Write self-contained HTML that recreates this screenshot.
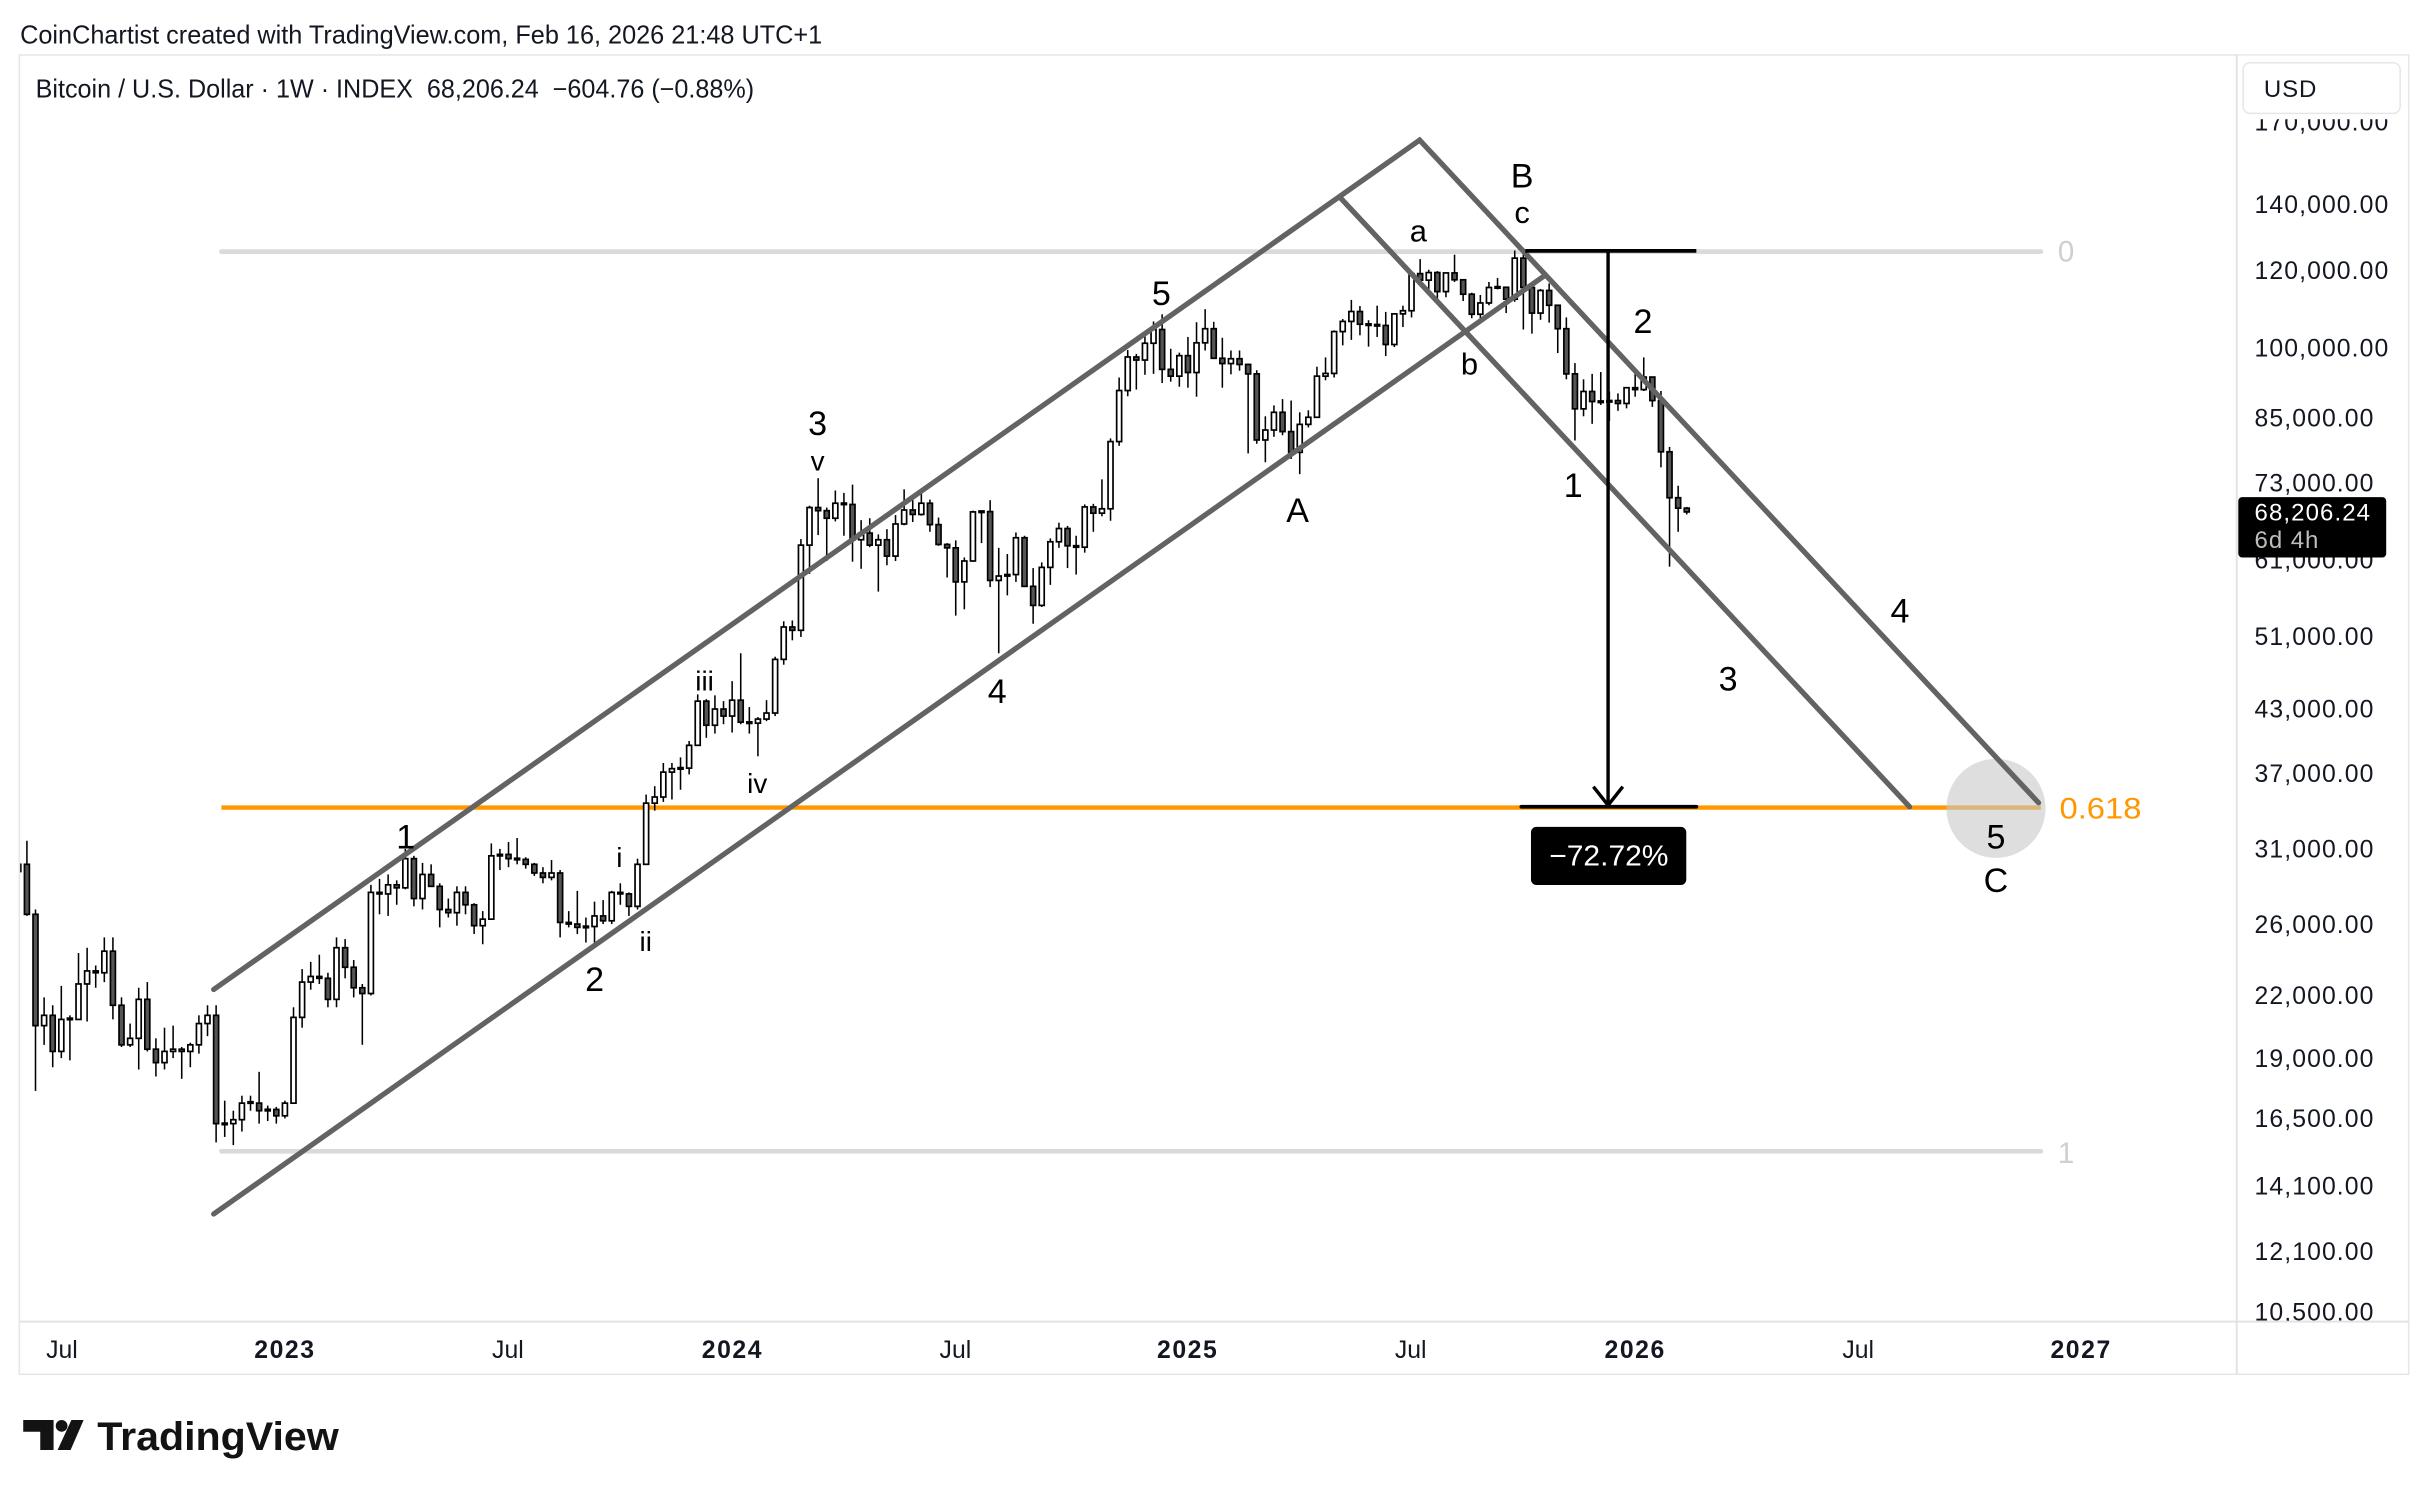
<!DOCTYPE html>
<html>
<head>
<meta charset="utf-8">
<style>
html,body{margin:0;padding:0;background:#fff;overflow:hidden;}
svg{display:block;}
text{font-family:"Liberation Sans",Arial,sans-serif;}
</style>
</head>
<body>
<svg id="s" width="2428" height="1496" viewBox="0 0 1568 966.1" preserveAspectRatio="none" xmlns="http://www.w3.org/2000/svg">
<defs>
  <clipPath id="cp"><rect x="13" y="36" width="1431" height="817"/></clipPath>
  <clipPath id="ap"><rect x="1445" y="36" width="110" height="817"/></clipPath>
</defs>
<rect width="1568" height="966.1" fill="#fff"/>

<!-- header -->
<text x="13" y="28" font-size="16.5" fill="#131722" textLength="518" lengthAdjust="spacingAndGlyphs">CoinChartist created with TradingView.com, Feb 16, 2026 21:48 UTC+1</text>

<!-- panel -->
<rect x="12.5" y="35.5" width="1543" height="852" fill="#fff" stroke="#e6e6e6" stroke-width="1"/>
<line x1="1444.5" y1="35.5" x2="1444.5" y2="887.5" stroke="#e3e3e3" stroke-width="1.3"/>
<line x1="12.5" y1="853.5" x2="1555.5" y2="853.5" stroke="#e3e3e3" stroke-width="1.3"/>

<!-- legend -->
<text x="23" y="63" font-size="16.5" fill="#131722" textLength="464" lengthAdjust="spacingAndGlyphs">Bitcoin / U.S. Dollar · 1W · INDEX&#160; 68,206.24&#160; −604.76 (−0.88%)</text>

<!-- fib lines -->
<line x1="143" y1="162.5" x2="1318" y2="162.5" stroke="#dadada" stroke-width="3" stroke-linecap="round"/>
<line x1="143" y1="743.5" x2="1318" y2="743.5" stroke="#dadada" stroke-width="3" stroke-linecap="round"/>
<line x1="143" y1="521.5" x2="1318" y2="521.5" stroke="#ff9800" stroke-width="2.8"/>
<text x="1329" y="169" font-size="19" fill="#cfcfcf">0</text>
<text x="1329" y="751" font-size="19" fill="#cfcfcf">1</text>
<text x="1330" y="528.5" font-size="19" fill="#ff9800" textLength="53" lengthAdjust="spacingAndGlyphs">0.618</text>

<!-- candles -->
<g id="c" clip-path="url(#cp)"></g>

<!-- circle -->
<circle cx="1289" cy="522" r="32" fill="rgba(200,200,200,0.6)"/>

<!-- channel lines -->
<g fill="none" stroke="#636363" stroke-width="3.4" stroke-linecap="round">
  <polyline points="138,639 916.8,90.5 1316.5,518.4" stroke-linejoin="miter"/>
  <line x1="865.4" y1="127.5" x2="1233.2" y2="521"/>
  <line x1="138" y1="784" x2="997.5" y2="178"/>
</g>

<!-- measurement arrow -->
<g stroke="#000" fill="none">
  <line x1="985" y1="162" x2="1095.5" y2="162" stroke-width="2.4"/>
  <line x1="982.5" y1="521" x2="1095.5" y2="521" stroke-width="2.4" stroke-linecap="round"/>
  <line x1="1038.5" y1="162" x2="1038.5" y2="519" stroke-width="2.2"/>
  <polyline points="1029,508 1038.5,520 1048,508" stroke-width="2.2"/>
</g>
<rect x="988.7" y="534" width="100.3" height="37.5" rx="3.5" fill="#000"/>
<text x="1039" y="559" font-size="18.5" fill="#fff" text-anchor="middle" textLength="77" lengthAdjust="spacingAndGlyphs">−72.72%</text>

<!-- wave labels -->
<g fill="#000" text-anchor="middle" font-size="22">
  <text x="262" y="548">1</text>
  <text x="384" y="640">2</text>
  <text x="400" y="560" font-size="18">i</text>
  <text x="417" y="614" font-size="18">ii</text>
  <text x="455" y="446" font-size="18">iii</text>
  <text x="489" y="512" font-size="18">iv</text>
  <text x="528" y="281">3</text>
  <text x="528" y="304" font-size="18">v</text>
  <text x="644" y="454">4</text>
  <text x="750" y="197">5</text>
  <text x="838" y="337">A</text>
  <text x="916" y="156" font-size="20">a</text>
  <text x="949" y="242" font-size="20">b</text>
  <text x="983" y="121">B</text>
  <text x="983" y="144" font-size="20">c</text>
  <text x="1016" y="321">1</text>
  <text x="1061" y="215">2</text>
  <text x="1116" y="446">3</text>
  <text x="1227" y="402">4</text>
  <text x="1289" y="548">5</text>
  <text x="1289" y="576">C</text>
</g>

<!-- price axis labels -->
<g clip-path="url(#ap)" font-size="16" fill="#131722" letter-spacing="0.7">
  <text x="1456" y="84.3">170,000.00</text>
  <text x="1456" y="137.6">140,000.00</text>
  <text x="1456" y="180.3">120,000.00</text>
  <text x="1456" y="230.3">100,000.00</text>
  <text x="1456" y="275.5">85,000.00</text>
  <text x="1456" y="317.5">73,000.00</text>
  <text x="1456" y="367.1">61,000.00</text>
  <text x="1456" y="416.5">51,000.00</text>
  <text x="1456" y="463.5">43,000.00</text>
  <text x="1456" y="505.1">37,000.00</text>
  <text x="1456" y="553.9">31,000.00</text>
  <text x="1456" y="602.4">26,000.00</text>
  <text x="1456" y="648.5">22,000.00</text>
  <text x="1456" y="689">19,000.00</text>
  <text x="1456" y="727.9">16,500.00</text>
  <text x="1456" y="771.3">14,100.00</text>
  <text x="1456" y="813.6">12,100.00</text>
  <text x="1456" y="852.7">10,500.00</text>
</g>
<rect x="1445.5" y="36" width="109.5" height="41" fill="#fff"/>
<rect x="1448.6" y="40.5" width="101.4" height="32.7" rx="4.5" fill="#fff" stroke="#e6e6e6" stroke-width="1"/>
<text x="1462" y="62.5" font-size="15.5" fill="#131722" letter-spacing="0.6">USD</text>

<!-- current price box -->
<rect x="1445.5" y="321" width="95.5" height="39" rx="2.5" fill="#000"/>
<text x="1456" y="336" font-size="15.5" fill="#fff" letter-spacing="0.7">68,206.24</text>
<text x="1456" y="354" font-size="15.5" fill="#bdbdbd" letter-spacing="0.6">6d 4h</text>

<!-- time axis labels -->
<g font-size="16" fill="#131722" text-anchor="middle">
  <text x="40" y="877">Jul</text>
  <text x="184" y="877" font-weight="bold" letter-spacing="1">2023</text>
  <text x="328" y="877">Jul</text>
  <text x="473" y="877" font-weight="bold" letter-spacing="1">2024</text>
  <text x="617" y="877">Jul</text>
  <text x="767" y="877" font-weight="bold" letter-spacing="1">2025</text>
  <text x="911" y="877">Jul</text>
  <text x="1056" y="877" font-weight="bold" letter-spacing="1">2026</text>
  <text x="1200" y="877">Jul</text>
  <text x="1344" y="877" font-weight="bold" letter-spacing="1">2027</text>
</g>

<!-- TradingView logo -->
<g fill="#131313">
  <path d="M15,917 H34.6 V936.4 H26 V924.6 H15 Z"/>
  <circle cx="39.8" cy="920.8" r="3.8"/>
  <path d="M46.1,917 L54,917 L45.6,936.4 L37.2,936.4 Z"/>
  <text x="62.8" y="936.4" font-size="25.5" font-weight="bold" textLength="156" lengthAdjust="spacingAndGlyphs">TradingView</text>
</g>
</svg>

<script>
(function(){
var D=[
[29.4,31.9,29.3,29.9],[29.9,31.6,26.5,26.6],[26.6,26.9,17.6,20.5],[20.5,21.9,19.6,21.0],[21.0,21.5,18.6,19.3],
[19.3,22.5,19.0,20.8],[20.8,21.0,18.9,20.85],[20.8,24.3,20.8,22.6],[22.6,24.6,20.7,23.3],[23.3,23.6,22.4,23.2],
[23.2,25.2,22.7,24.4],[24.4,25.2,20.8,21.5],[21.5,21.9,19.5,19.6],[19.6,20.6,19.5,19.9],[19.9,22.4,18.5,21.8],
[21.8,22.7,19.3,19.4],[19.4,19.9,18.2,18.8],[18.8,20.4,18.5,19.3],[19.3,20.5,19.0,19.4],[19.4,19.5,18.1,19.3],
[19.3,19.7,18.6,19.6],[19.6,21.0,19.2,20.6],[20.6,21.5,20.0,21.0],[21.0,21.5,15.6,16.3],[16.3,17.2,15.8,16.28],
[16.3,16.8,15.5,16.45],[16.45,17.4,16.0,17.1],[17.1,17.4,16.8,17.15],[17.1,18.4,16.3,16.8],[16.8,17.0,16.4,16.85],
[16.85,16.95,16.3,16.6],
[16.6,17.2,16.5,17.1],[17.1,21.4,17.1,20.9],[20.9,23.4,20.4,22.7],[22.7,23.8,22.3,23.0],[23.0,24.2,22.6,22.9],
[22.9,23.2,21.4,21.8],[21.8,25.2,21.4,24.6],[24.6,25.1,22.9,23.5],[23.5,23.9,21.9,22.4],[22.4,22.6,19.6,22.1],
[22.1,28.5,22.0,28.0],[28.0,28.9,26.6,27.9],[27.9,29.2,26.5,28.5],[28.5,28.8,27.2,28.3],[28.3,31.0,28.2,30.3],
[30.3,30.5,27.1,27.6],[27.6,30.0,26.9,29.2],[29.2,29.9,28.4,28.4],[28.4,28.6,25.8,26.9],[26.9,27.6,26.4,26.7],
[26.7,28.4,25.9,28.0],[28.0,28.4,26.6,27.2],[27.2,27.3,25.4,25.9],[25.9,26.8,24.8,26.3],[26.3,31.4,26.3,30.5],
[30.5,31.0,29.5,30.6],[30.6,31.5,29.7,30.3],[30.3,31.8,29.9,30.25],[30.25,30.4,29.6,29.9],[29.9,30.0,29.1,29.3],
[29.3,29.7,28.6,29.0],[29.0,30.2,28.8,29.3],[29.3,29.5,25.2,26.1],[26.1,26.8,25.8,26.0],[26.0,28.1,25.4,25.8],
[25.8,26.4,24.9,25.85],[25.85,27.4,24.9,26.5],[26.5,27.5,26.0,26.2],[26.2,28.1,26.0,28.0],[28.0,28.6,27.2,27.9],
[27.9,28.0,26.5,27.1],[27.1,30.3,26.9,29.9],[29.9,35.2,29.9,34.5],[34.5,35.9,33.9,35.0],[35.0,37.9,34.6,37.1],
[37.1,37.9,34.8,37.4],[37.4,38.4,35.6,37.45],[37.45,39.9,36.9,39.5],[39.5,44.5,39.5,43.8],[43.8,44.0,40.2,41.4],
[41.4,44.4,40.6,43.0],[43.0,43.8,41.5,42.3],
[42.3,45.9,40.7,43.9],[43.9,49.0,41.5,41.7],[41.7,43.2,40.6,41.6],[41.6,42.2,38.5,42.0],[42.0,43.9,41.8,42.6],
[42.6,48.6,42.3,48.3],[48.3,52.8,47.7,52.1],[52.1,52.9,50.5,51.7],[51.7,64.0,50.9,63.1],[63.1,69.2,59.0,68.9],
[68.9,73.8,64.6,68.4],[68.4,68.9,60.8,67.2],[67.2,71.7,66.7,69.6],[69.6,71.3,64.5,69.4],[69.4,72.7,60.7,63.9],
[63.9,66.9,59.7,64.9],[64.9,67.2,62.8,63.1],[63.1,64.7,56.6,63.9],[63.9,65.5,60.2,61.5],[61.5,67.7,60.8,66.3],
[66.3,71.9,66.1,68.5],[68.5,70.6,66.6,67.8],[67.8,71.9,67.6,69.6],[69.6,70.2,65.1,66.2],[66.2,67.3,63.0,63.2],
[63.2,63.4,58.5,62.7],[62.7,63.8,53.5,57.9],[57.9,61.3,54.3,60.8],[60.8,68.4,60.7,68.2],[68.2,68.4,63.4,68.25],
[68.25,70.1,57.2,58.1],[58.1,62.7,49.0,58.7],[58.7,61.8,56.1,58.9],[58.9,65.0,57.9,64.2],[64.2,64.5,57.2,57.3],
[57.3,59.8,52.5,54.8],[54.8,60.6,54.6,59.9],[59.9,64.1,57.5,63.6],[63.6,66.5,62.7,65.6],[65.6,66.0,59.8,63.0],
[63.0,64.5,58.9,62.8],[62.8,69.4,62.0,69.0],[69.0,69.5,65.1,68.0],[68.0,73.6,67.5,68.7],[68.7,81.0,66.8,80.4],
[80.4,93.4,79.6,90.6],[90.6,99.6,89.4,98.0],[98.0,98.7,90.8,97.3],[97.3,104.0,94.0,101.2],[101.2,106.5,94.2,104.5],
[104.5,108.3,92.2,95.2],[95.2,99.9,92.5,93.7],[93.7,99.0,91.4,98.3],
[98.3,102.7,91.2,94.5],[94.5,106.3,89.3,101.3],[101.3,109.6,99.5,104.7],[104.7,106.4,97.7,97.7],[97.7,102.5,91.2,96.5],
[96.5,99.5,94.1,97.6],[97.6,99.5,94.9,96.3],[96.3,96.5,78.2,94.2],[94.2,95.0,80.0,80.7],[80.7,85.3,76.6,82.6],
[82.6,87.5,81.3,86.1],[86.1,88.8,81.6,82.3],[82.3,88.5,77.2,78.4],[78.4,86.1,74.5,83.7],[83.7,86.5,83.1,85.1],
[85.1,95.8,85.1,93.7],[93.7,97.9,92.8,94.3],[94.3,104.3,93.4,104.0],[104.0,107.1,100.7,106.5],[106.5,112.0,102.0,109.0],
[109.0,110.4,103.1,105.8],[105.8,106.8,100.4,105.6],[105.6,110.5,102.7,105.5],[105.5,108.9,98.2,100.9],[100.9,108.5,100.3,108.4],
[108.4,110.5,105.1,109.2],[109.2,119.5,107.5,119.1],[119.1,123.2,115.7,117.3],[117.3,120.2,114.7,119.4],[119.4,119.8,112.0,114.2],
[114.2,119.4,112.7,119.3],[119.3,124.5,116.8,117.4],[117.4,117.6,111.7,113.5],[113.5,113.9,107.3,108.3],[108.3,113.3,107.3,111.2],
[111.2,116.8,110.6,115.3],[115.3,117.9,114.8,115.35],[115.35,115.4,108.6,112.2],[112.2,125.7,111.5,123.5],[123.5,126.2,104.5,115.3],
[115.3,116.0,103.5,108.6],[108.6,114.9,106.9,114.5],[114.5,116.4,106.2,110.6],[110.6,110.8,98.9,104.7],[104.7,107.5,93.0,94.2],
[94.2,96.6,80.6,86.8],[86.8,93.0,85.3,90.4],[90.4,94.2,83.8,88.3],[88.3,94.6,87.6,88.2],[88.2,90.4,84.4,88.5],
[88.5,90.0,86.4,87.9],[87.9,91.3,86.9,91.2],
[91.2,94.8,89.3,90.8],[90.8,97.9,90.5,93.5],[93.5,93.6,87.2,88.5],[88.5,90.5,75.7,78.5],[78.5,79.4,60.0,70.5],
[70.5,72.5,65.1,68.8],[68.8,69.0,67.8,68.2]
];
var W0=-31;
function Y(p){return 847-276*Math.log(p*1000/10500);}
var s='';
for(var i=0;i<D.length;i++){
  var d=D[i],w=W0+i,x=184+5.554*w;
  var o=d[0],h=d[1],l=d[2],c=d[3];
  s+='<line x1="'+x.toFixed(2)+'" y1="'+Y(h).toFixed(2)+'" x2="'+x.toFixed(2)+'" y2="'+Y(l).toFixed(2)+'" stroke="#000" stroke-width="1"/>';
  var t=Y(Math.max(o,c)),b=Y(Math.min(o,c));
  if(b-t<1){var m=(t+b)/2;t=m-0.5;b=m+0.5;}
  s+='<rect x="'+(x-1.6).toFixed(2)+'" y="'+t.toFixed(2)+'" width="3.2" height="'+(b-t).toFixed(2)+'" fill="'+(c<o?'#555':'#fff')+'" stroke="#000" stroke-width="1.1"/>';
}
document.getElementById('c').innerHTML=s;
})();
</script>
</body>
</html>
